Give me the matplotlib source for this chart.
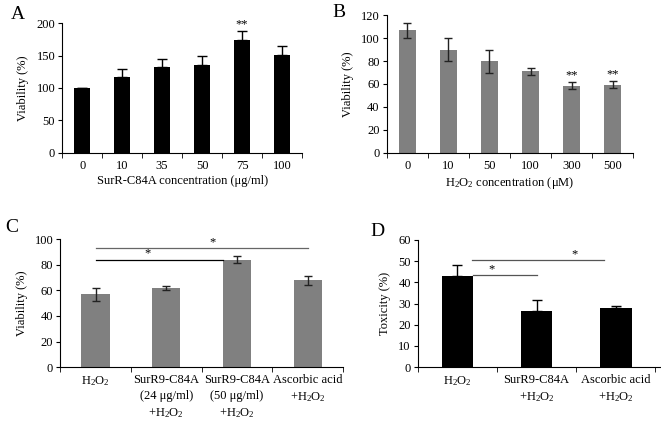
import numpy as np
import matplotlib.pyplot as plt

plt.rcParams['font.family'] = ['Liberation Serif', 'DejaVu Serif']
plt.rcParams['mathtext.fontset'] = 'custom'
plt.rcParams['mathtext.rm'] = 'Liberation Serif'

H2O2 = r'$\mathregular{H_2O_2}$'

# data
a_labels = ['0', '10', '35', '50', '75', '100']
a_vals = [100, 117, 133, 135, 174, 151]
a_err = [0, 13, 12, 15, 14, 13]

b_labels = ['0', '10', '50', '100', '300', '500']
b_vals = [107, 90, 80, 71, 58.5, 59.5]
b_err = [6.5, 10, 10, 3, 3, 3]

c_labels = [H2O2, 'SurR9-C84A\n(24 \u03bcg/ml)\n+' + H2O2,
            'SurR9-C84A\n(50 \u03bcg/ml)\n+' + H2O2, 'Ascorbic acid\n+' + H2O2]
c_vals = [57, 62, 84, 68]
c_err = [5, 1.5, 3, 3.5]

d_labels = [H2O2, 'SurR9-C84A\n+' + H2O2, 'Ascorbic acid\n+' + H2O2]
d_vals = [43, 26.5, 28]
d_err = [5, 5, 0.7]

FS = 9
GRAY = '#808080'

fig = plt.figure(figsize=(6.61, 4.21), dpi=100)


def style(ax, n, ymax, step, right=None):
    for s in ['top', 'right']:
        ax.spines[s].set_visible(False)
    ax.set_xlim(-0.5, (n - 0.5) if right is None else right)
    ax.set_ylim(0, ymax)
    ax.set_yticks(np.arange(0, ymax + 1, step))
    ax.set_xticks(np.arange(-0.5, n, 1), minor=True)
    ax.tick_params(axis='x', which='major', length=0, labelsize=FS, pad=5)
    ax.tick_params(axis='x', which='minor', length=3.5, direction='out')
    ax.tick_params(axis='y', length=3, direction='out', labelsize=FS, pad=2)


# panel A
ax = fig.add_axes([0.094, 0.637, 0.363, 0.308])
x = np.arange(len(a_vals))
ax.bar(x, a_vals, width=0.4, color='black')
ax.errorbar(x, a_vals, yerr=[np.zeros(len(a_err)), a_err], fmt='none',
            ecolor='black', elinewidth=1, capsize=3.5)
style(ax, len(a_vals), 200, 50)
ax.set_xticks(x, a_labels)
ax.set_ylabel('Viability (%)', fontsize=FS, labelpad=5)
ax.set_xlabel('SurR-C84A concentration (\u03bcg/ml)', fontsize=FS, labelpad=2)
ax.text(4, a_vals[4] + a_err[4] + 1, '**', ha='center', va='bottom', fontsize=9)
fig.text(0.016, 0.965, 'A', fontsize=14, va='center')

# panel B
ax = fig.add_axes([0.585, 0.637, 0.373, 0.327])
x = np.arange(len(b_vals))
ax.bar(x, b_vals, width=0.42, color=GRAY)
ax.errorbar(x, b_vals, yerr=b_err, fmt='none', ecolor='#222222',
            elinewidth=1, capsize=3)
style(ax, len(b_vals), 120, 20)
ax.set_xticks(x, b_labels)
ax.set_ylabel('Viability (%)', fontsize=FS, labelpad=5)
ax.set_xlabel(H2O2 + ' concentration (\u03bcM)', fontsize=FS, labelpad=2)
for i in [4, 5]:
    ax.text(i, b_vals[i] + b_err[i] + 0.5, '**', ha='center', va='bottom', fontsize=9)
fig.text(0.503, 0.97, 'B', fontsize=14, va='center')

# panel C
ax = fig.add_axes([0.091, 0.128, 0.428, 0.304])
x = np.arange(len(c_vals))
ax.bar(x, c_vals, width=0.4, color=GRAY)
ax.errorbar(x, c_vals, yerr=c_err, fmt='none', ecolor='#222222',
            elinewidth=1, capsize=3)
style(ax, len(c_vals), 100, 20)
ax.set_xticks(x, c_labels, linespacing=1.45, va='top')
ax.set_ylabel('Viability (%)', fontsize=FS, labelpad=5)
ax.plot([0, 1.8], [84, 84], color='black', lw=0.9)
ax.plot([0, 3], [93, 93], color='#666666', lw=0.9)
ax.text(0.73, 84, '*', ha='center', va='bottom', fontsize=9)
ax.text(1.65, 93, '*', ha='center', va='bottom', fontsize=9)
fig.text(0.008, 0.46, 'C', fontsize=14, va='center')

# panel D
ax = fig.add_axes([0.632, 0.128, 0.368, 0.302])
x = np.arange(len(d_vals))
ax.bar(x, d_vals, width=0.4, color='black')
ax.errorbar(x, d_vals, yerr=[np.zeros(len(d_err)), d_err], fmt='none',
            ecolor='black', elinewidth=1, capsize=3.5)
style(ax, len(d_vals), 60, 10, right=2.57)
ax.set_xticks(x, d_labels, linespacing=1.45, va='top')
ax.set_ylabel('Toxicity (%)', fontsize=FS, labelpad=5)
ax.plot([0.2, 1], [43.5, 43.5], color='#555555', lw=0.9)
ax.plot([0.18, 1.85], [50.5, 50.5], color='#555555', lw=0.9)
ax.text(0.43, 43.5, '*', ha='center', va='bottom', fontsize=9)
ax.text(1.48, 50.5, '*', ha='center', va='bottom', fontsize=9)
fig.text(0.56, 0.45, 'D', fontsize=14, va='center')

plt.savefig('out.png', dpi=100)
